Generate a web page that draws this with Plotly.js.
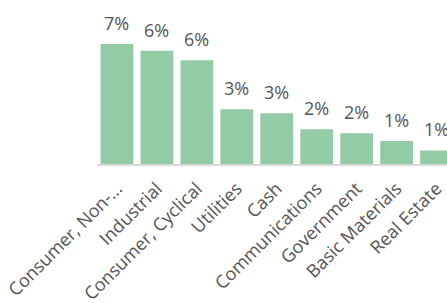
<!DOCTYPE html>
<html><head><meta charset="utf-8">
<script src="https://cdn.plot.ly/plotly-3.0.1.min.js"></script>
<style>html,body{margin:0;padding:0;background:#fff;}#chart{width:447px;height:303px;}</style>
</head><body><div id="chart"></div>
<script>
const categories = ['Consumer, Non-...','Industrial','Consumer, Cyclical','Utilities','Cash','Communications','Government','Basic Materials','Real Estate'];
const values = [6.7, 6.33, 5.79, 3.05, 2.83, 1.94, 1.71, 1.28, 0.76];
const valueLabels = ['7%','6%','6%','3%','3%','2%','2%','1%','1%'];

const textColor = '#555555';
const trace = {
  type: 'bar', x: categories, y: values,
  marker: {color: '#93cba6'},
  hoverinfo: 'none'
};
const annotations = categories.map((c, i) => ({
  x: c, y: values[i], text: valueLabels[i], showarrow: false,
  xanchor: 'center', yanchor: 'bottom', yshift: 7,
  font: {family: 'Open Sans', size: 18, color: textColor}
}));
const layout = {
  width: 447, height: 303,
  margin: {l: 96.5, r: 0, t: 20, b: 139, pad: 0},
  paper_bgcolor: '#fff', plot_bgcolor: '#fff',
  showlegend: false, bargap: 0.18,
  xaxis: {range: [-0.5, 8.2625], showline: true, linecolor: '#d9d9d9', linewidth: 2,
    showgrid: false, zeroline: false, ticks: '', tickangle: -45,
    ticklabelstandoff: 5, ticklabelshift: 0,
    tickfont: {family: 'Open Sans', size: 18, color: textColor}, fixedrange: true},
  yaxis: {range: [0, 8.04], visible: false, showgrid: false, zeroline: false, fixedrange: true},
  annotations: annotations,
  font: {family: 'Open Sans'}
};
Plotly.newPlot('chart', [trace], layout, {displayModeBar: false, staticPlot: true});
</script></body></html>
